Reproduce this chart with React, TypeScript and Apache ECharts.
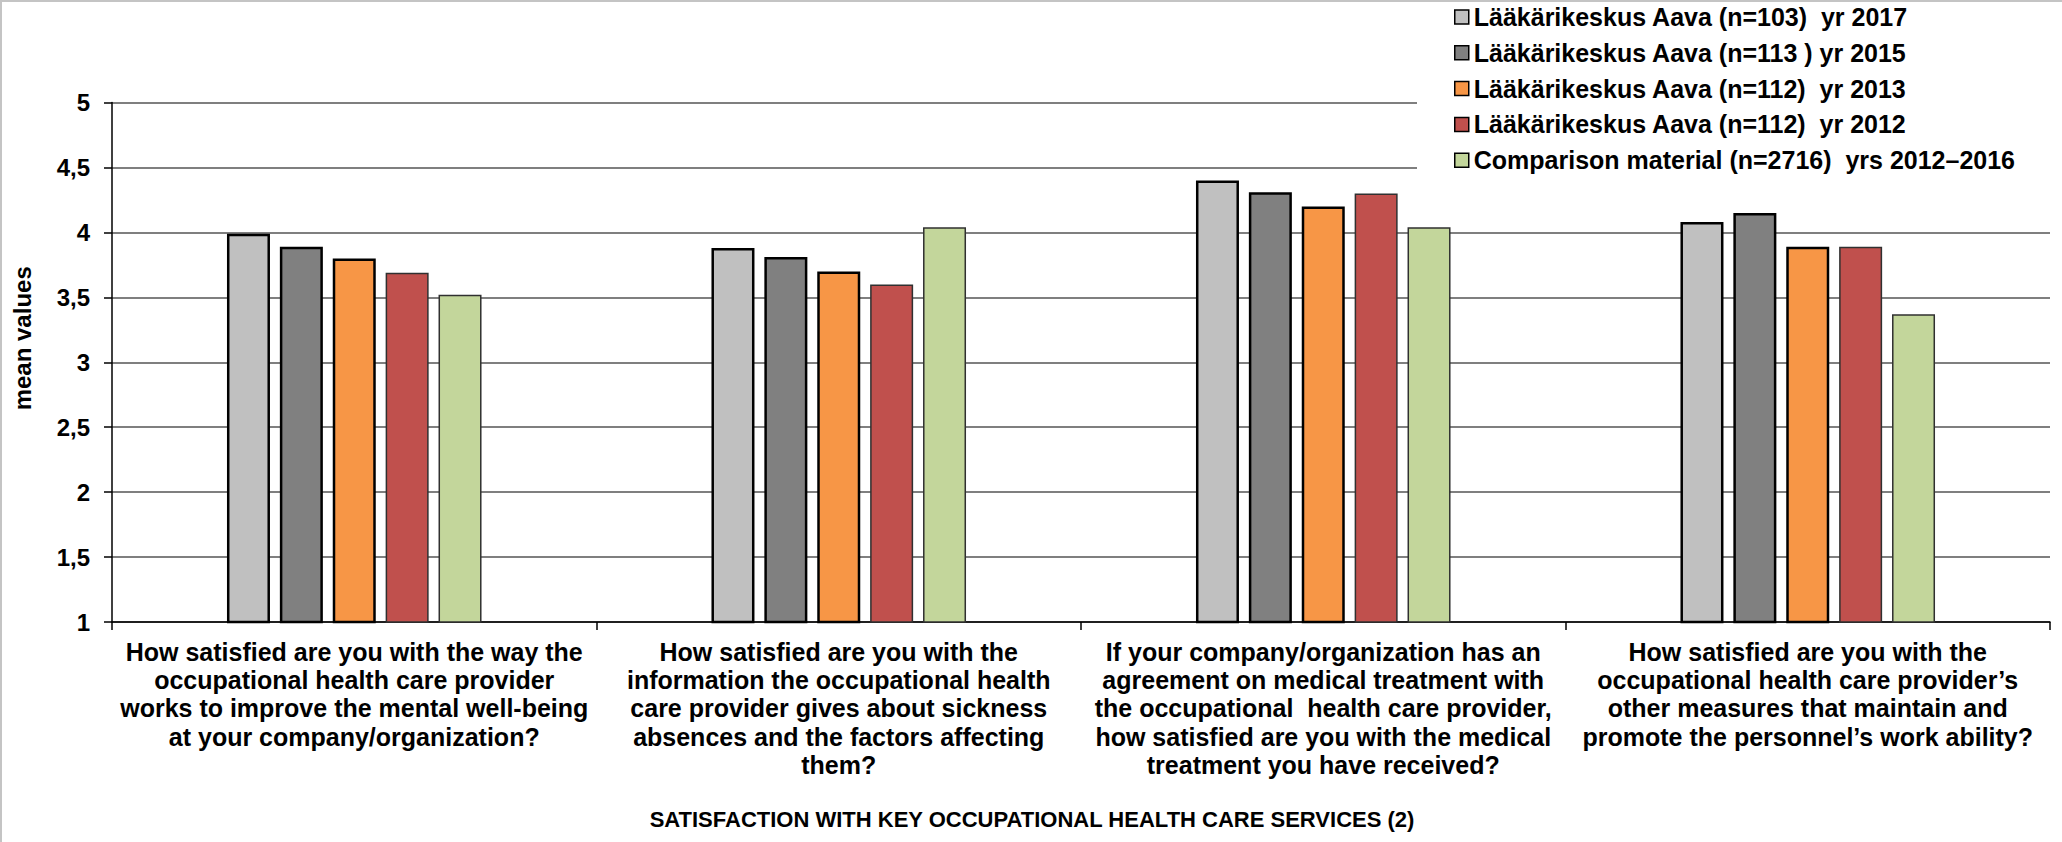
import React, { useEffect, useRef } from "react";
import * as echarts from "echarts";

const categories = [
  "How satisfied are you with the way the\noccupational health care provider\nworks to improve the mental well-being\nat your company/organization?",
  "How satisfied are you with the\ninformation the occupational health\ncare provider gives about sickness\nabsences and the factors affecting\nthem?",
  "If your company/organization has an\nagreement on medical treatment with\nthe occupational  health care provider,\nhow satisfied are you with the medical\ntreatment you have received?",
  "How satisfied are you with the\noccupational health care provider\u2019s\nother measures that maintain and\npromote the personnel\u2019s work ability?",
];

const seriesNames = [
  "L\u00e4\u00e4k\u00e4rikeskus Aava (n=103)  yr 2017",
  "L\u00e4\u00e4k\u00e4rikeskus Aava (n=113 ) yr 2015",
  "L\u00e4\u00e4k\u00e4rikeskus Aava (n=112)  yr 2013",
  "L\u00e4\u00e4k\u00e4rikeskus Aava (n=112)  yr 2012",
  "Comparison material (n=2716)  yrs 2012\u20132016",
];

const values2017 = [3.99, 3.88, 4.4, 4.08];
const values2015 = [3.89, 3.81, 4.31, 4.15];
const values2013 = [3.8, 3.7, 4.2, 3.89];
const values2012 = [3.69, 3.6, 4.3, 3.89];
const valuesComparison = [3.52, 4.04, 4.04, 3.37];

const yTicks = ["1", "1,5", "2", "2,5", "3", "3,5", "4", "4,5", "5"];

const colors = ["#C0C0C0", "#808080", "#F79646", "#C0504D", "#C3D69B"];
const borderColors = ["#000000", "#000000", "#000000", "#303030", "#303030"];
const borderWidths = [2.5, 2.5, 2.5, 1.5, 1.5];

const FONT = "'Liberation Sans', Arial, sans-serif";

export default function App() {
  const ref = useRef<HTMLDivElement>(null);

  useEffect(() => {
    if (!ref.current) return;
    const chart = echarts.init(ref.current, undefined, { renderer: "svg" });
    const allValues = [values2017, values2015, values2013, values2012, valuesComparison];

    chart.setOption({
      animation: false,
      backgroundColor: "#ffffff",
      textStyle: { fontFamily: FONT },
      title: {
        text: "SATISFACTION WITH KEY OCCUPATIONAL HEALTH CARE SERVICES (2)",
        left: 1032,
        textAlign: "center",
        top: 808,
        padding: 0,
        textStyle: { fontFamily: FONT, fontSize: 22, fontWeight: "bold", color: "#000" },
      },
      legend: {
        orient: "vertical",
        left: 1417,
        top: 0,
        padding: [3, 120, 16, 37],
        itemGap: 7.8,
        itemWidth: 14,
        itemHeight: 14,
        icon: "rect",
        backgroundColor: "#ffffff",
        itemStyle: { borderColor: "#000", borderWidth: 1.5 },
        textStyle: { fontFamily: FONT, fontSize: 25, fontWeight: "bold", color: "#000", lineHeight: 28 },
        data: seriesNames,
      },
      grid: {
        left: 112,
        right: 12,
        top: 102.6,
        bottom: 220,
        containLabel: false,
        outerBoundsMode: "none",
      },
      xAxis: {
        type: "category",
        data: categories,
        boundaryGap: true,
        axisLine: { show: true, lineStyle: { color: "#000", width: 1.5 } },
        axisTick: { show: true, alignWithLabel: false, length: 8, lineStyle: { color: "#000", width: 1.5 } },
        axisLabel: {
          interval: 0,
          margin: 15.5,
          fontFamily: FONT,
          fontSize: 25,
          fontWeight: "bold",
          color: "#000",
          lineHeight: 28.3,
          align: "center",
        },
        splitLine: { show: false },
      },
      yAxis: {
        type: "value",
        min: 1,
        max: 5,
        interval: 0.5,
        name: "mean values",
        nameLocation: "middle",
        nameGap: 78,
        nameTextStyle: {
          fontFamily: FONT,
          fontSize: 24,
          fontWeight: "bold",
          color: "#000",
          padding: [0, 0, 0, 48],
        },
        axisLine: { show: true, lineStyle: { color: "#000", width: 1.5 } },
        axisTick: { show: true, length: 8, lineStyle: { color: "#000", width: 1.5 } },
        axisLabel: {
          margin: 22,
          fontFamily: FONT,
          fontSize: 24,
          fontWeight: "bold",
          color: "#000",
          formatter: (v: number) => {
            const idx = Math.round((v - 1) / 0.5);
            return yTicks[idx] ?? String(v).replace(".", ",");
          },
        },
        splitLine: { show: true, lineStyle: { color: "#555555", width: 1.5 } },
      },
      series: seriesNames.map((name, i) => ({
        name,
        type: "bar",
        data: allValues[i],
        barWidth: 43,
        barGap: "23%",
        itemStyle: {
          color: colors[i],
          borderColor: borderColors[i],
          borderWidth: borderWidths[i],
        },
      })),
      graphic: [
        {
          type: "line",
          z: 100,
          shape: { x1: 0, y1: 1, x2: 2062, y2: 1 },
          style: { stroke: "#c4c4c4", lineWidth: 2 },
        },
        {
          type: "line",
          z: 100,
          shape: { x1: 1, y1: 0, x2: 1, y2: 842 },
          style: { stroke: "#c4c4c4", lineWidth: 2 },
        },
      ],
    });

    return () => {
      chart.dispose();
    };
  }, []);

  return (
    <div
      ref={ref}
      style={{ position: "fixed", left: 0, top: 0, width: 2062, height: 842 }}
    />
  );
}
